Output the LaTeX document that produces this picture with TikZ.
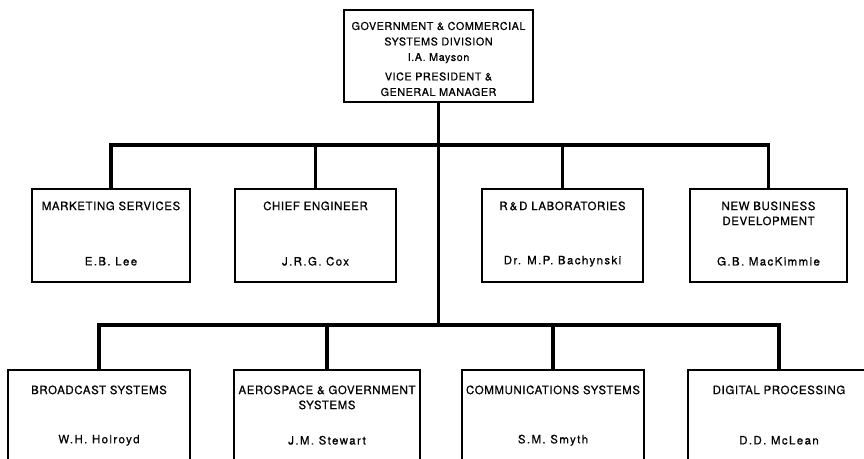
\documentclass[tikz,border=0pt]{standalone}
\usepackage{fontspec}
\setmainfont{TeX Gyre Heros}
\newfontfamily\unitfont{TeX Gyre Heros}[LetterSpace=5,FakeBold=0.6]
\newfontfamily\namefont{TeX Gyre Heros}[LetterSpace=12,FakeBold=0.6]
\begin{document}
\begin{tikzpicture}[x=1pt,y=1pt,line cap=round,
% Styles
unit/.style={draw,line width=1.4pt,inner sep=0pt,minimum height=93pt},
low unit/.style={unit,minimum height=90pt},
title/.style={anchor=north,align=center,inner sep=0pt,font=\unitfont\fontsize{11.5}{15}\selectfont},
person/.style={inner sep=0pt,font=\namefont\fontsize{11.5}{15}\selectfont},
connector/.style={line width=3.1pt,line cap=butt}]
% Page
\useasboundingbox (0,0) rectangle (864,458);
\clip (0,0) rectangle (864,458);
% Head of division
\node[unit,minimum width=189pt,minimum height=92pt] (gm) at (438.5,402) {};
\node[align=center,inner sep=0pt,font=\unitfont\fontsize{10.8}{15.5}\selectfont]
  (gm text) at ([yshift=-3pt]gm.center)
  {GOVERNMENT \& COMMERCIAL\\ SYSTEMS DIVISION\\ I.A. Mayson\\[4pt]
   VICE PRESIDENT \&\\ GENERAL MANAGER};
% Staff row
\foreach \n/\x/\w/\t/\p in {mkt/111/158/{MARKETING SERVICES}/{E.B. Lee},
    chief/315.5/161/{CHIEF ENGINEER}/{J.R.G. Cox},
    lab/562.5/161/{R\,\&\,D LABORATORIES}/{Dr. M.P. Bachynski},
    nbd/768.5/157/{NEW BUSINESS\\ DEVELOPMENT}/{G.B. MacKimmie}}{
  \node[unit,minimum width=\w pt] (\n) at (\x,222.5) {};
  \node[title] (\n title) at ([yshift=-13pt]\n.north) {\t};
  \node[person] (\n name) at ([yshift=-73pt]\n.north) {\p};
}
% Operating row
\foreach \n/\x/\w/\t/\p in {bcast/99/182/{BROADCAST SYSTEMS}/{W.H. Holroyd},
    aero/327/186/{AEROSPACE \& GOVERNMENT\\ SYSTEMS}/{J.M. Stewart},
    comm/553/182/{COMMUNICATIONS SYSTEMS}/{S.M. Smyth},
    dig/779/182/{DIGITAL PROCESSING}/{D.D. McLean}}{
  \node[low unit,minimum width=\w pt] (\n) at (\x,43) {};
  \node[title] (\n title) at ([yshift=-16pt]\n.north) {\t};
  \node[person] (\n name) at ([yshift=-71pt]\n.north) {\p};
}
% Bus lines
\coordinate (staff bus) at (438.5,313);
\coordinate (line bus) at (438.5,133);
\draw[connector] (gm.south) -- (line bus);
\foreach \n in {mkt,chief,lab,nbd}
  \draw[connector] (staff bus) -| (\n.north);
\foreach \n in {bcast,aero,comm,dig}
  \draw[connector] (line bus) -| (\n.north);
\end{tikzpicture}
\end{document}
